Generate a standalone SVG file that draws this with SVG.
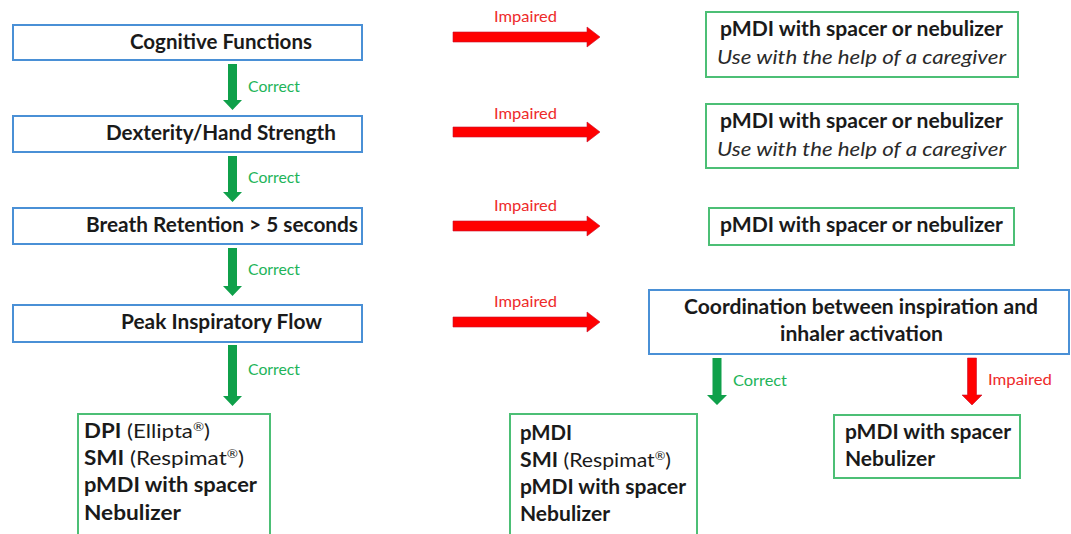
<svg xmlns="http://www.w3.org/2000/svg" width="1071" height="534" viewBox="0 0 1071 534">
<defs>
<style>
.bg{fill:#ffffff}
.q{fill:#ffffff;stroke:#4a90d6;stroke-width:2}
.r{fill:#ffffff;stroke:#4cbf75;stroke-width:2}
.t{font-family:Lato,"Open Sans",sans-serif;font-weight:bold;font-size:20px;fill:#1a1a1a}
.n{font-weight:normal}
.sup{font-size:12px;baseline-shift:7px}
.i{font-family:Lato,"Open Sans",sans-serif;font-style:italic;font-size:20px;fill:#2a2a2a}
.gl{font-family:Lato,"Open Sans",sans-serif;font-size:15px;fill:#22b459}
.rl{font-family:Lato,"Open Sans",sans-serif;font-size:15px;fill:#ee2a2a}
.ga{fill:#0fa04a}
.ra{fill:#ff0000;stroke:#c8102e;stroke-width:0.6}
</style>
</defs>
<rect class="bg" x="0" y="0" width="1071" height="534"/>

<g id="connectors">
  <path class="ga" d="M228,64 H237 V100 H242 L232.5,110 L223,100 H228 Z"/>
  <text class="gl" x="248" y="92" textLength="52" lengthAdjust="spacingAndGlyphs">Correct</text>
  <path class="ga" d="M228,156 H237 V192 H242 L232.5,202 L223,192 H228 Z"/>
  <text class="gl" x="248" y="183" textLength="52" lengthAdjust="spacingAndGlyphs">Correct</text>
  <path class="ga" d="M228,248 H237 V286 H242 L232.5,296 L223,286 H228 Z"/>
  <text class="gl" x="248" y="275" textLength="52" lengthAdjust="spacingAndGlyphs">Correct</text>
  <path class="ga" d="M228,345 H237 V396 H242 L232.5,406 L223,396 H228 Z"/>
  <text class="gl" x="248" y="375" textLength="52" lengthAdjust="spacingAndGlyphs">Correct</text>

  <path class="ra" d="M453,32 H587 V27 L600,37 L587,47 V42 H453 Z"/>
  <text class="rl" x="494" y="22" textLength="63" lengthAdjust="spacingAndGlyphs">Impaired</text>
  <path class="ra" d="M453,127 H587 V122 L600,132 L587,142 V137 H453 Z"/>
  <text class="rl" x="494" y="119" textLength="63" lengthAdjust="spacingAndGlyphs">Impaired</text>
  <path class="ra" d="M453,221 H587 V216 L600,226 L587,236 V231 H453 Z"/>
  <text class="rl" x="494" y="211" textLength="63" lengthAdjust="spacingAndGlyphs">Impaired</text>
  <path class="ra" d="M453,317 H587 V312 L600,322 L587,332 V327 H453 Z"/>
  <text class="rl" x="494" y="307" textLength="63" lengthAdjust="spacingAndGlyphs">Impaired</text>

  <path class="ga" d="M712.5,358 H721.5 V395 H727 L717,405 L707,395 H712.5 Z"/>
  <text class="gl" x="733" y="386" textLength="54" lengthAdjust="spacingAndGlyphs">Correct</text>
  <path class="ra" d="M967.5,358 H976.5 V395 H982 L972,405 L962,395 H967.5 Z"/>
  <text class="rl" x="988" y="385" textLength="64" lengthAdjust="spacingAndGlyphs">Impaired</text>
</g>

<g id="cognitive">
  <rect class="q" x="13" y="25" width="349" height="35"/>
  <text class="t" x="130" y="49" textLength="182" lengthAdjust="spacingAndGlyphs">Cognitive Functions</text>
</g>
<g id="dexterity">
  <rect class="q" x="13" y="116" width="349" height="36"/>
  <text class="t" x="106" y="140" textLength="230" lengthAdjust="spacingAndGlyphs">Dexterity/Hand Strength</text>
</g>
<g id="breath">
  <rect class="q" x="13" y="208" width="349" height="36"/>
  <text class="t" x="86" y="232" textLength="272" lengthAdjust="spacingAndGlyphs">Breath Retention &gt; 5 seconds</text>
</g>
<g id="peak">
  <rect class="q" x="13" y="305" width="349" height="37"/>
  <text class="t" x="121" y="329" textLength="201" lengthAdjust="spacingAndGlyphs">Peak Inspiratory Flow</text>
</g>

<g id="result1">
  <rect class="r" x="706" y="12" width="312" height="65"/>
  <text class="t" x="720" y="36" textLength="283" lengthAdjust="spacingAndGlyphs">pMDI with spacer or nebulizer</text>
  <text class="i" x="717" y="64" textLength="289" lengthAdjust="spacingAndGlyphs">Use with the help of a caregiver</text>
</g>
<g id="result2">
  <rect class="r" x="706" y="104" width="312" height="64"/>
  <text class="t" x="720" y="128" textLength="283" lengthAdjust="spacingAndGlyphs">pMDI with spacer or nebulizer</text>
  <text class="i" x="717" y="156" textLength="289" lengthAdjust="spacingAndGlyphs">Use with the help of a caregiver</text>
</g>
<g id="result3">
  <rect class="r" x="709" y="208" width="305" height="37"/>
  <text class="t" x="720" y="232" textLength="283" lengthAdjust="spacingAndGlyphs">pMDI with spacer or nebulizer</text>
</g>
<g id="coordination">
  <rect class="q" x="649" y="290" width="420" height="64"/>
  <text class="t" x="684" y="314" textLength="354" lengthAdjust="spacingAndGlyphs">Coordination between inspiration and</text>
  <text class="t" x="780" y="341" textLength="163" lengthAdjust="spacingAndGlyphs">inhaler activation</text>
</g>

<g id="devices-left">
  <rect class="r" x="78" y="414" width="192" height="122"/>
  <text class="t" x="84" y="438" textLength="126" lengthAdjust="spacingAndGlyphs">DPI<tspan class="n"> (Ellipta</tspan><tspan class="n sup">®</tspan><tspan class="n">)</tspan></text>
  <text class="t" x="84" y="465" textLength="160" lengthAdjust="spacingAndGlyphs">SMI<tspan class="n"> (Respimat</tspan><tspan class="n sup">®</tspan><tspan class="n">)</tspan></text>
  <text class="t" x="84" y="492" textLength="173" lengthAdjust="spacingAndGlyphs">pMDI with spacer</text>
  <text class="t" x="84" y="520" textLength="97" lengthAdjust="spacingAndGlyphs">Nebulizer</text>
</g>
<g id="devices-correct">
  <rect class="r" x="510" y="414" width="187" height="122"/>
  <text class="t" x="520" y="440" textLength="52" lengthAdjust="spacingAndGlyphs">pMDI</text>
  <text class="t" x="520" y="467" textLength="151" lengthAdjust="spacingAndGlyphs">SMI<tspan class="n"> (Respimat</tspan><tspan class="n sup">®</tspan><tspan class="n">)</tspan></text>
  <text class="t" x="520" y="494" textLength="166" lengthAdjust="spacingAndGlyphs">pMDI with spacer</text>
  <text class="t" x="520" y="521" textLength="90" lengthAdjust="spacingAndGlyphs">Nebulizer</text>
</g>
<g id="devices-impaired">
  <rect class="r" x="834" y="415" width="186" height="63"/>
  <text class="t" x="845" y="439" textLength="166" lengthAdjust="spacingAndGlyphs">pMDI with spacer</text>
  <text class="t" x="845" y="466" textLength="90" lengthAdjust="spacingAndGlyphs">Nebulizer</text>
</g>
</svg>
